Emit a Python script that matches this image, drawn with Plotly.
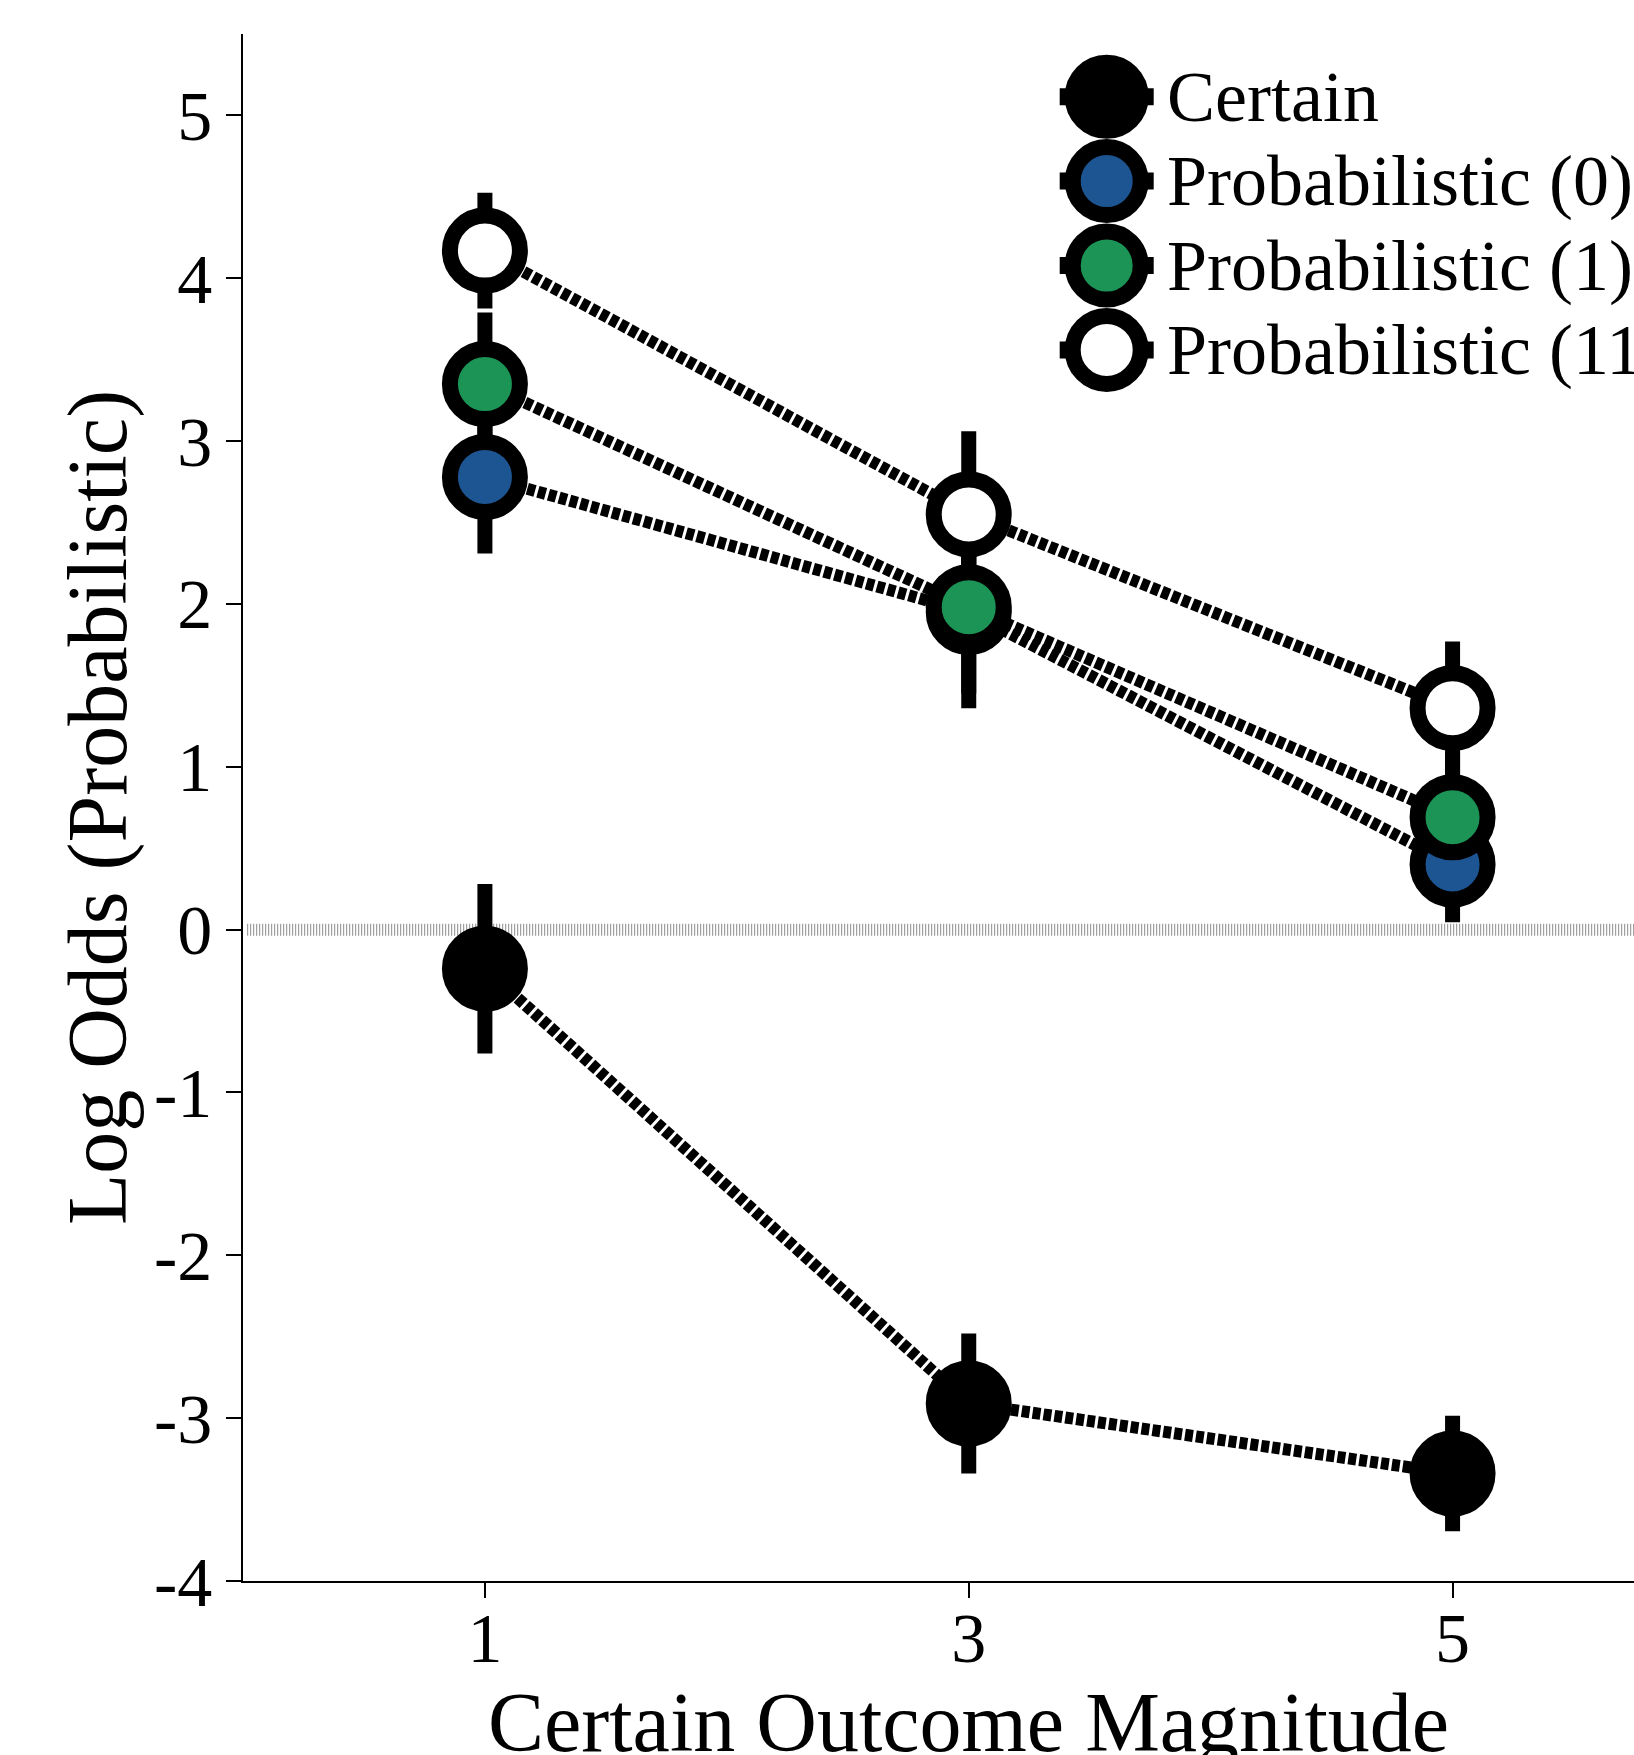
import plotly.graph_objects as go

# ---------------- data ----------------
magnitudes = [1, 3, 5]
series_names = ["Certain", "Probabilistic (0)", "Probabilistic (1)", "Probabilistic (11)"]
certain_vals = [-0.24, -2.91, -3.34]
certain_err = [0.52, 0.43, 0.355]
prob0_vals = [2.78, 1.95, 0.40]
prob0_err = [0.47, 0.50, 0.355]
prob1_vals = [3.35, 1.98, 0.69]
prob1_err = [0.44, 0.62, 0.40]
prob11_vals = [4.17, 2.55, 1.36]
prob11_err = [0.355, 0.51, 0.41]

y_tickvals = [-4, -3, -2, -1, 0, 1, 2, 3, 4, 5]
y_ticktext = ["-4", "-3", "-2", "-1", "0", "1", "2", "3", "4", "5"]
x_tickvals = [1, 3, 5]
x_ticktext = ["1", "3", "5"]
x_title = "Certain Outcome Magnitude"
y_title = "Log Odds (Probabilistic)"

fill_colors = ["#000000", "#1d5592", "#1b9456", "#ffffff"]
all_vals = [certain_vals, prob0_vals, prob1_vals, prob11_vals]
all_errs = [certain_err, prob0_err, prob1_err, prob11_err]

FONT = "Liberation Serif, Times New Roman, serif"
W, H = 1634, 1755
ML, MR, MT, MB = 243, 0, 34, 174

fig = go.Figure()

# lines + error bars first (beneath all markers)
for name, vals, errs in zip(series_names, all_vals, all_errs):
    fig.add_trace(go.Scatter(
        x=magnitudes, y=vals, mode="lines", name=name, showlegend=False,
        line=dict(color="black", width=12, dash="8px,3px"),
        error_y=dict(type="data", array=errs, symmetric=True,
                     color="black", thickness=15, width=0),
        cliponaxis=False,
    ))

# markers on top
for name, vals, col in zip(series_names, all_vals, fill_colors):
    fig.add_trace(go.Scatter(
        x=magnitudes, y=vals, mode="markers", name=name, showlegend=False,
        marker=dict(size=70, color=col, line=dict(color="black", width=16)),
        cliponaxis=False,
    ))

# ---------------- manual legend on hidden overlay axes ----------------
leg_idx = list(range(len(series_names)))
for i, (name, col) in enumerate(zip(series_names, fill_colors)):
    fig.add_trace(go.Scatter(
        x=[0], y=[leg_idx[i]], mode="markers", showlegend=False,
        xaxis="x2", yaxis="y2",
        marker=dict(size=68, color=col, line=dict(color="black", width=16)),
        error_x=dict(type="data", array=[47], symmetric=True,
                     color="black", thickness=17, width=0),
        cliponaxis=False,
    ))
    fig.add_annotation(
        x=58, y=leg_idx[i], xref="x2", yref="y2", text=name,
        showarrow=False, xanchor="left", yanchor="middle",
        font=dict(family=FONT, size=72, color="black"),
    )

# x-axis title, centred on the middle category as in the original
fig.add_annotation(
    x=magnitudes[1], y=0, xref="x", yref="paper", yshift=-93,
    text=x_title, showarrow=False, xanchor="center", yanchor="top",
    font=dict(family=FONT, size=84, color="black"),
)

# zero reference line
fig.add_shape(type="line", xref="paper", yref="y", x0=0.003, x1=1, y0=0, y1=0,
              line=dict(color="#8c8c8c", width=12, dash="1px,2px"), layer="below")

plot_w = W - ML - MR
plot_h = H - MT - MB
mx_center = 1106.7 - ML           # legend marker column (px from plot left)
row0 = 96.7 - MT                  # first legend row (px from plot top)
row_gap = 84.4

fig.update_layout(
    width=W, height=H,
    margin=dict(l=ML, r=MR, t=MT, b=MB, pad=0, autoexpand=False),
    paper_bgcolor="white", plot_bgcolor="white",
    font=dict(family=FONT, color="black"),
    showlegend=False,
    xaxis=dict(
        range=[0, 5.75], tickvals=x_tickvals, ticktext=x_ticktext,
        showline=True, linecolor="black", linewidth=2,
        ticks="outside", ticklen=15, tickwidth=1.5, tickcolor="black",
        showgrid=False, zeroline=False, automargin=False,
        ticklabelstandoff=-20,
        tickfont=dict(family=FONT, size=70, color="black"),
    ),
    yaxis=dict(
        range=[-4, 5.5], tickvals=y_tickvals, ticktext=y_ticktext,
        showline=True, linecolor="black", linewidth=1.5,
        ticks="outside", ticklen=15, tickwidth=1.5, tickcolor="black",
        showgrid=False, zeroline=False, automargin=False,
        tickfont=dict(family=FONT, size=70, color="black"),
        title=dict(text=y_title,
                   font=dict(family=FONT, size=84, color="black"), standoff=0),
    ),
    xaxis2=dict(overlaying="x", anchor="y2", visible=False,
                range=[-mx_center, plot_w - mx_center], showgrid=False, zeroline=False),
    yaxis2=dict(overlaying="y", anchor="x2", visible=False,
                range=[(plot_h - row0) / row_gap, -row0 / row_gap],
                showgrid=False, zeroline=False),
)

fig.write_html("out.html")
